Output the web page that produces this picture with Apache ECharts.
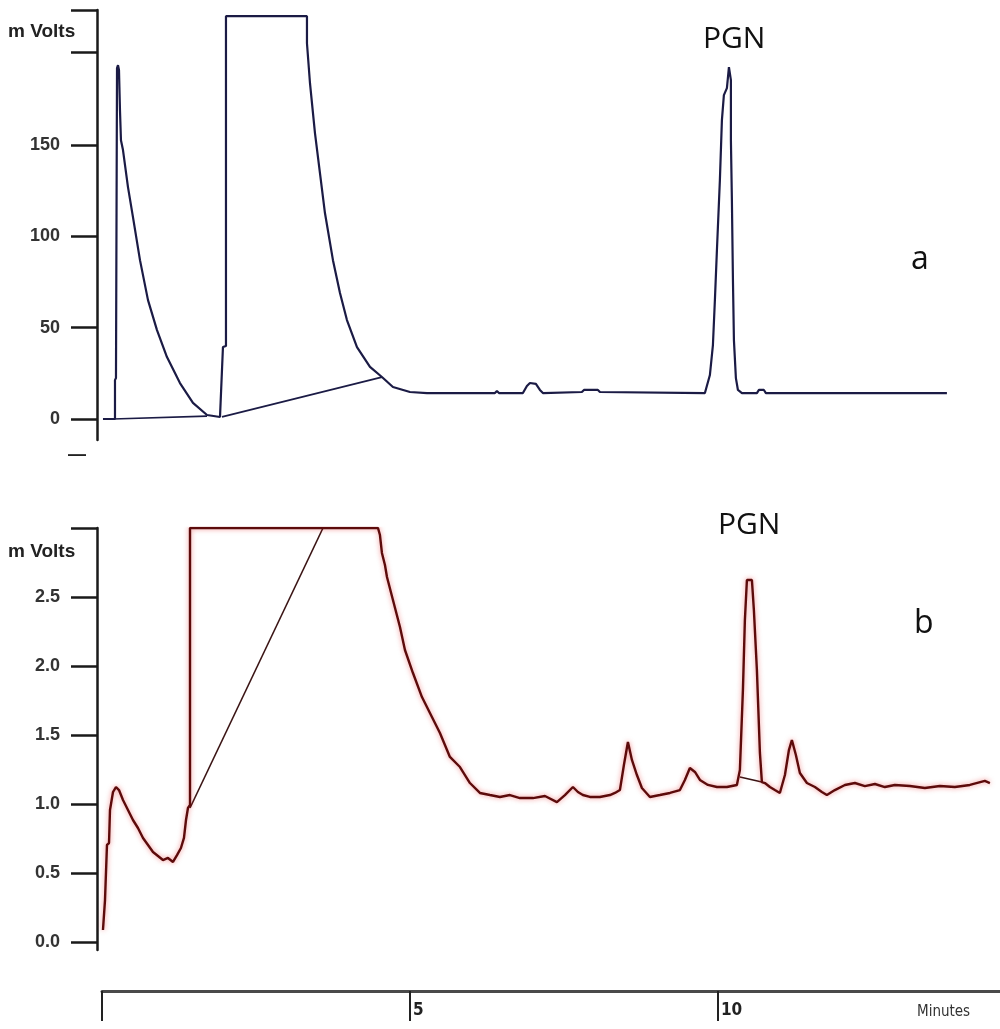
<!DOCTYPE html>
<html>
<head>
<meta charset="utf-8">
<script src="https://cdn.jsdelivr.net/npm/echarts@6/dist/echarts.min.js"></script>
<style>
html,body{margin:0;padding:0;background:#fff;}
#chart{width:1000px;height:1029px;}
</style>
</head>
<body>
<div id="chart"></div>
<script>
// ---------- DATA (minutes, mV) ----------
// Panel a: trace
const aTime = [0.016,0.211,0.211,0.227,0.244,0.260,0.276,0.292,0.308,0.341,0.422,0.503,0.617,0.747,0.893,1.055,1.266,1.477,1.705,1.916,1.948,
  1.964,2.013,2.013,3.328,3.328,3.377,3.458,3.539,3.620,3.750,3.864,3.977,4.140,4.351,4.545,4.724,5.000,5.276,6.380,6.412,6.445,6.834,6.899,6.948,7.045,7.110,7.159,
  7.792,7.825,8.052,8.084,9.789,9.821,9.870,9.919,9.951,9.984,10.032,10.065,10.097,10.146,10.179,10.195,10.211,10.211,10.227,10.244,10.260,10.292,10.325,10.390,
  10.633,10.666,10.747,10.779,13.718];
const aMv = [0,0,21.3,22.4,192.2,193.8,191.1,169.2,152.7,147.3,127.0,110.6,87.0,65.1,48.7,33.9,19.7,8.8,2.2,1.1,1.1,
  39.4,40.0,220.6,220.6,205.8,183.9,156.6,134.7,112.8,87.0,69.0,54.2,39.4,28.5,23.0,17.5,14.8,14.2,14.2,15.3,14.2,14.2,18.1,19.7,19.2,15.9,14.2,
  14.8,15.9,15.9,14.8,14.2,14.8,24.1,40.5,65.1,92.5,130.8,163.7,177.4,181.2,192.7,192.7,185.6,152.7,119.9,76.1,43.2,22.4,15.9,14.2,
  14.2,15.9,15.9,14.2,14.2];
// Panel a: integration baselines
const aBase1Time = [0.179,1.705];
const aBase1Mv = [0,1.6];
const aBase2Time = [1.948,4.545];
const aBase2Mv = [1.1,23.0];

// Panel b: trace
const bTime = [0.016,0.049,0.081,0.114,0.130,0.179,0.227,0.276,0.341,0.422,0.503,0.584,0.666,0.747,0.828,0.909,0.990,1.071,1.153,1.218,1.282,1.331,1.364,1.396,1.429,1.429,
  4.481,4.513,4.545,4.594,4.627,4.724,4.838,4.919,5.049,5.195,5.357,5.487,5.649,5.812,5.974,6.136,6.299,6.461,6.623,6.786,6.997,7.192,7.386,7.516,7.646,7.727,7.808,7.922,
  8.084,8.247,8.328,8.409,8.474,8.539,8.604,8.685,8.766,8.896,9.058,9.221,9.383,9.464,9.545,9.627,9.708,9.838,9.984,10.146,10.308,10.357,10.406,10.438,10.471,10.552,
  10.584,10.633,10.682,10.714,10.763,10.844,10.925,11.006,11.088,11.153,11.201,11.266,11.331,11.445,11.575,11.688,11.769,11.899,12.062,12.224,12.386,12.549,12.711,
  12.873,13.117,13.360,13.604,13.847,14.091,14.334,14.416];
const bMv = [0.087,0.304,0.703,0.717,0.957,1.087,1.123,1.101,1.029,0.957,0.884,0.826,0.754,0.703,0.652,0.623,0.594,0.609,0.580,0.630,0.681,0.754,0.884,0.971,0.993,3.0,
  3.0,2.949,2.819,2.732,2.645,2.478,2.283,2.116,1.949,1.775,1.630,1.514,1.341,1.268,1.152,1.080,1.065,1.051,1.065,1.043,1.043,1.058,1.014,1.065,1.123,1.087,1.065,1.051,
  1.051,1.065,1.080,1.101,1.283,1.449,1.319,1.210,1.116,1.051,1.065,1.080,1.101,1.174,1.261,1.232,1.174,1.138,1.123,1.123,1.138,1.246,1.826,2.333,2.623,2.623,
  2.406,1.971,1.370,1.159,1.152,1.123,1.101,1.080,1.210,1.391,1.464,1.355,1.225,1.152,1.123,1.087,1.065,1.101,1.138,1.152,1.130,1.145,1.123,
  1.138,1.130,1.116,1.130,1.123,1.138,1.167,1.152];
// Panel b: integration baselines
const bBase1Time = [1.429,3.588];
const bBase1Mv = [0.971,3.0];
const bBase2Time = [10.357,10.714];
const bBase2Mv = [1.196,1.159];

// Axis ticks / labels
const aTicks = [0,50,100,150,201,224];
const aLabels = [0,50,100,150];
const bTicks = [0,0.5,1.0,1.5,2.0,2.5,3.0];
const bLabels = [0,0.5,1.0,1.5,2.0,2.5];
const xTicks = [0,5,10];
const xLabels = [5,10];
const peakName = 'PGN';
const unitName = 'm Volts';

// ---------- CHART ----------
const zip = (t, v) => t.map((x, i) => [x, v[i]]);
const X_MIN = -0.081, X_MAX = 14.58;
const chart = echarts.init(document.getElementById('chart'), null, {renderer: 'canvas'});

const yLabelStyle = {color:'#333', fontFamily:'Liberation Sans, Arial, sans-serif', fontWeight:'bold', fontSize:18, margin:37};
const blue = '#1b1b45';
const red = '#5c0b0b';

chart.setOption({
  animation: false,
  backgroundColor: '#ffffff',
  grid: [
    {left:97, right:0, top:10, height:430, outerBoundsMode:'none', containLabel:false},
    {left:97, right:0, top:528, height:422, outerBoundsMode:'none', containLabel:false},
    {left:102, right:0, top:991, height:1, outerBoundsMode:'none', containLabel:false}
  ],
  xAxis: [
    {gridIndex:0, type:'value', min:X_MIN, max:X_MAX, show:false},
    {gridIndex:1, type:'value', min:X_MIN, max:X_MAX, show:false},
    {gridIndex:2, type:'value', min:0, max:X_MAX, position:'top',
      splitLine:{show:false},
      axisLine:{show:true, onZero:false, lineStyle:{color:'#4a4a4a', width:3}},
      axisTick:{show:true, inside:true, customValues:xTicks, length:30, lineStyle:{color:'#222', width:2}},
      axisLabel:{show:true, inside:true, customValues:xLabels, align:'left', verticalAlign:'top', margin:11, padding:[0,0,0,3],
        color:'#222', fontFamily:'DejaVu Sans Condensed, DejaVu Sans, sans-serif', fontWeight:'bold', fontSize:17},
      name:'Minutes', nameLocation:'end', nameGap:-83,
      nameTextStyle:{color:'#333', fontFamily:'DejaVu Sans Condensed, DejaVu Sans, sans-serif', fontSize:15,
        align:'left', verticalAlign:'top', padding:[14,0,0,0]}
    }
  ],
  yAxis: [
    {gridIndex:0, type:'value', min:-11.5, max:224,
      splitLine:{show:false},
      axisLine:{show:true, onZero:false, lineStyle:{color:'#1a1a1a', width:2.5}},
      axisTick:{show:true, customValues:aTicks, length:26, lineStyle:{color:'#1a1a1a', width:2.5}},
      axisLabel:Object.assign({customValues:aLabels, formatter:(v)=>String(v)}, yLabelStyle)
    },
    {gridIndex:1, type:'value', min:-0.058, max:3.0,
      splitLine:{show:false},
      axisLine:{show:true, onZero:false, lineStyle:{color:'#1a1a1a', width:2.5}},
      axisTick:{show:true, customValues:bTicks, length:26, lineStyle:{color:'#1a1a1a', width:2.5}},
      axisLabel:Object.assign({customValues:bLabels, formatter:(v)=>v.toFixed(1)}, yLabelStyle)
    },
    {gridIndex:2, type:'value', min:0, max:1, show:false}
  ],
  graphic: [
    {type:'text', left:8, top:22, style:{text:unitName, fill:'#222', font:'bold 19px "Liberation Sans", Arial, sans-serif'}},
    {type:'text', left:8, top:542, style:{text:unitName, fill:'#222', font:'bold 19px "Liberation Sans", Arial, sans-serif'}},
    {type:'text', left:68, top:446, style:{text:'—', fill:'#222', font:'bold 18px "Liberation Sans", Arial, sans-serif'}},
    {type:'text', left:703, top:24, style:{text:peakName, fill:'#111', font:'30px "Open Sans", sans-serif'}},
    {type:'text', left:718, top:510, style:{text:peakName, fill:'#111', font:'30px "Open Sans", sans-serif'}},
    {type:'text', left:911, top:244, style:{text:'a', fill:'#111', font:'32px "Open Sans", sans-serif'}},
    {type:'text', left:914, top:608, style:{text:'b', fill:'#111', font:'32px "Open Sans", sans-serif'}}
  ],
  series: [
    {name:'a', type:'line', xAxisIndex:0, yAxisIndex:0, data:zip(aTime,aMv), showSymbol:false, symbol:'none',
      lineStyle:{color:blue, width:2.2}, z:3},
    {name:'a base 1', type:'line', xAxisIndex:0, yAxisIndex:0, data:zip(aBase1Time,aBase1Mv), showSymbol:false, symbol:'none',
      lineStyle:{color:blue, width:1.6}, z:2},
    {name:'a base 2', type:'line', xAxisIndex:0, yAxisIndex:0, data:zip(aBase2Time,aBase2Mv), showSymbol:false, symbol:'none',
      lineStyle:{color:blue, width:1.8}, z:2},
    {name:'b', type:'line', xAxisIndex:1, yAxisIndex:1, data:zip(bTime,bMv), showSymbol:false, symbol:'none',
      lineStyle:{color:red, width:2.4, shadowColor:'rgba(230,40,40,0.55)', shadowBlur:5}, z:3},
    {name:'b base 1', type:'line', xAxisIndex:1, yAxisIndex:1, data:zip(bBase1Time,bBase1Mv), showSymbol:false, symbol:'none',
      lineStyle:{color:'#3a1414', width:1.6}, z:2},
    {name:'b base 2', type:'line', xAxisIndex:1, yAxisIndex:1, data:zip(bBase2Time,bBase2Mv), showSymbol:false, symbol:'none',
      lineStyle:{color:'#3a1414', width:1.5}, z:2}
  ]
});
</script>
</body>
</html>
